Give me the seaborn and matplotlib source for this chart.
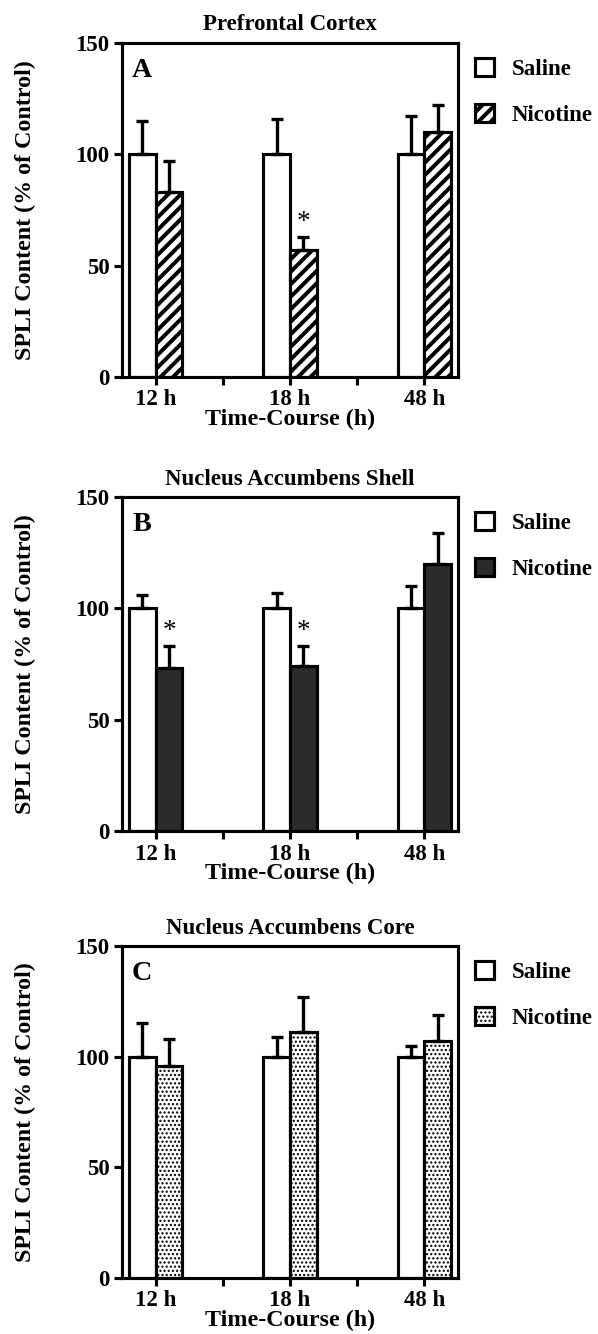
import numpy as np
import pandas as pd
import matplotlib
matplotlib.use("Agg")
import matplotlib.pyplot as plt
from matplotlib.patches import Patch
import seaborn as sns

# categories
times = ["12 h", "18 h", "48 h"]
groups = ["Saline", "Nicotine"]

titles = ["Prefrontal Cortex", "Nucleus Accumbens Shell", "Nucleus Accumbens Core"]
letters = ["A", "B", "C"]

# SPLI content (% of control), mean and upper error (SEM)
pfc_saline = [100, 100, 100]
pfc_saline_sem = [15, 16, 17]
pfc_nicotine = [83, 57, 110]
pfc_nicotine_sem = [14, 6, 12]
pfc_sig = [False, True, False]

shell_saline = [100, 100, 100]
shell_saline_sem = [6, 7, 10]
shell_nicotine = [73, 74, 120]
shell_nicotine_sem = [10, 9, 14]
shell_sig = [True, True, False]

core_saline = [100, 100, 100]
core_saline_sem = [15, 9, 5]
core_nicotine = [96, 111, 107]
core_nicotine_sem = [12, 16, 12]
core_sig = [False, False, False]

panels = [
    (pfc_saline, pfc_saline_sem, pfc_nicotine, pfc_nicotine_sem, pfc_sig),
    (shell_saline, shell_saline_sem, shell_nicotine, shell_nicotine_sem, shell_sig),
    (core_saline, core_saline_sem, core_nicotine, core_nicotine_sem, core_sig),
]

# nicotine bar look per panel: (face colour, hatch)
nic_styles = [("white", "////"), ("#2b2b2b", None), ("white", "......")]
hatch_lw = [1.9, 1.0, 0.7]

sns.set_theme(style="ticks")
plt.rcParams["font.family"] = ["Liberation Serif", "DejaVu Serif"]
plt.rcParams["font.weight"] = "bold"
plt.rcParams["axes.labelweight"] = "bold"
plt.rcParams["axes.titleweight"] = "bold"
plt.rcParams["text.color"] = "black"
plt.rcParams["axes.labelcolor"] = "black"
plt.rcParams["axes.edgecolor"] = "black"
plt.rcParams["axes.linewidth"] = 1.5
plt.rcParams["xtick.color"] = "black"
plt.rcParams["ytick.color"] = "black"
plt.rcParams["xtick.labelcolor"] = "black"
plt.rcParams["ytick.labelcolor"] = "black"
plt.rcParams["hatch.color"] = "black"

DPI = 150
fig = plt.figure(figsize=(598 / DPI, 1334 / DPI), dpi=DPI)

W, H = 598, 1334
left, right = 122, 458
boxes = [(43, 377), (497, 831), (946, 1278)]

for k, (sal, sal_e, nic, nic_e, sig) in enumerate(panels):
    top, bot = boxes[k]
    ax = fig.add_axes([left / W, 1 - bot / H, (right - left) / W, (bot - top) / H])

    face, hatch = nic_styles[k]
    plt.rcParams["hatch.linewidth"] = hatch_lw[k]

    df = pd.DataFrame({
        "Time": times * 2,
        "Group": ["Saline"] * 3 + ["Nicotine"] * 3,
        "Value": sal + nic,
    })
    sns.barplot(data=df, x="Time", y="Value", hue="Group", order=times,
                hue_order=groups, palette={"Saline": "white", "Nicotine": face},
                saturation=1, width=0.4, errorbar=None, edgecolor="black",
                linewidth=1.5, legend=False, ax=ax)

    for bar in ax.containers[1]:
        if hatch:
            bar.set_hatch(hatch)
            if hasattr(bar, "set_hatch_linewidth"):
                bar.set_hatch_linewidth(hatch_lw[k])

    # one-sided error bars from the drawn bars
    for cont, errs in zip(ax.containers, [sal_e, nic_e]):
        for bar, e in zip(cont, errs):
            x = bar.get_x() + bar.get_width() / 2
            h = bar.get_height()
            ax.errorbar(x, h, yerr=[[0], [e]], fmt="none", ecolor="black",
                        elinewidth=1.6, capsize=3, capthick=1.6, zorder=3)

    for bar, e, s in zip(ax.containers[1], nic_e, sig):
        if s:
            x = bar.get_x() + bar.get_width() / 2
            ax.annotate("*", xy=(x, bar.get_height() + e), xytext=(0, 1),
                        textcoords="offset points", ha="center", va="bottom",
                        fontsize=13, fontweight="normal")

    ax.set_xlim(-0.25, 2.25)
    ax.set_ylim(0, 150)
    ax.set_yticks([0, 50, 100, 150])
    ax.set_xticks([0.5, 1.5], minor=True)
    ax.tick_params(axis="both", which="both", direction="out", length=4,
                   width=1.5, labelsize=11, pad=2)
    for sp in ax.spines.values():
        sp.set_linewidth(1.5)
        sp.set_visible(True)

    ax.set_title(titles[k], fontsize=11, pad=6)
    ax.set_xlabel("Time-Course (h)", fontsize=11.5, labelpad=-1)
    ax.set_ylabel("SPLI Content (% of Control)", fontsize=11.5)
    ax.yaxis.set_label_coords(-0.255, 0.5)

    ax.text(0.03, 0.955, letters[k], transform=ax.transAxes, ha="left",
            va="top", fontsize=13.5)

    handles = [
        Patch(facecolor="white", edgecolor="black", linewidth=1.5, label="Saline"),
        Patch(facecolor=face, edgecolor="black", linewidth=1.5,
              hatch=hatch, label="Nicotine"),
    ]
    ax.legend(handles=handles, loc="upper left", bbox_to_anchor=(1.05, 0.955),
              frameon=False, fontsize=11, handlelength=0.85, handleheight=0.85,
              handletextpad=0.75, labelspacing=1.05, borderaxespad=0, borderpad=0)

fig.savefig("out.png", dpi=DPI)
